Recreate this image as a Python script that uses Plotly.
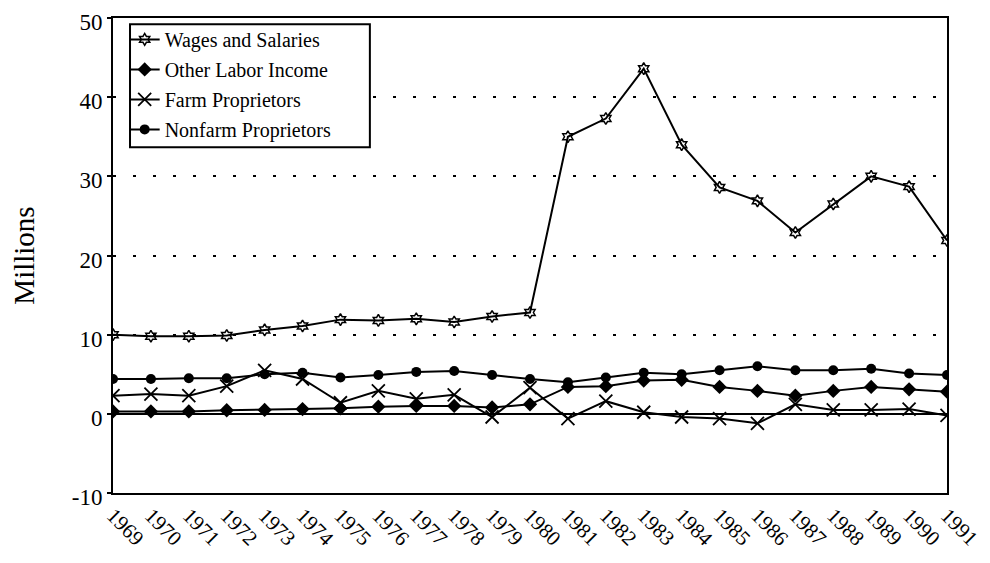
import plotly.graph_objects as go

years = list(range(1969, 1992))
year_labels = [str(y) for y in years]

wages = [10.0, 9.8, 9.8, 9.9, 10.6, 11.1, 11.9, 11.8, 12.0, 11.6, 12.3, 12.8,
         35.0, 37.3, 43.6, 34.0, 28.6, 26.9, 22.9, 26.5, 30.0, 28.7, 21.9]
other_labor = [0.3, 0.3, 0.3, 0.45, 0.5, 0.6, 0.7, 0.9, 1.0, 1.0, 0.8, 1.2,
               3.4, 3.5, 4.2, 4.3, 3.4, 2.9, 2.3, 2.9, 3.4, 3.1, 2.8]
farm = [2.3, 2.5, 2.3, 3.5, 5.5, 4.4, 1.4, 2.9, 1.9, 2.4, -0.4, 3.3,
        -0.6, 1.6, 0.2, -0.4, -0.6, -1.2, 1.2, 0.5, 0.5, 0.6, -0.2]
nonfarm = [4.4, 4.4, 4.5, 4.5, 5.0, 5.2, 4.6, 4.9, 5.3, 5.4, 4.9, 4.4,
           4.0, 4.6, 5.2, 5.0, 5.5, 6.0, 5.5, 5.5, 5.7, 5.1, 4.9]

y_ticks = [-10, 0, 10, 20, 30, 40, 50]
y_tick_labels = ["-10", "0", "10", "20", "30", "40", "50"]

series = [
    ("Wages and Salaries", wages, dict(symbol="hexagram-open", size=9, color="black", line=dict(width=1.5, color="black"))),
    ("Other Labor Income", other_labor, dict(symbol="diamond", size=11, color="black")),
    ("Farm Proprietors", farm, dict(symbol="x-thin-open", size=13, color="black", line=dict(width=1.8, color="black"))),
    ("Nonfarm Proprietors", nonfarm, dict(symbol="circle", size=10, color="black")),
]

fig = go.Figure()
for i, (name, vals, mk) in enumerate(series):
    fig.add_trace(go.Scatter(
        x=years, y=vals, name=name, mode="lines+markers",
        line=dict(color="black", width=2),
        marker=mk, legendgroup=f"g{i}",
    ))

font_family = "Liberation Serif"

# legend frame drawn as a shape so its width matches the original box
fig.add_shape(
    type="rect", xref="paper", yref="paper",
    x0=0.0204, x1=0.308, y0=0.728, y1=0.987,
    line=dict(color="black", width=2), fillcolor="white", layer="above",
)

# page body has an 8px margin, so the figure is sized to fit inside the window
fig.update_layout(
    width=982, height=555,
    margin=dict(l=105, r=43, t=10, b=70, autoexpand=False),
    paper_bgcolor="white", plot_bgcolor="white",
    font=dict(family=font_family, color="black", size=20),
    showlegend=True,
    legend=dict(
        x=0.014, y=0.996, xanchor="left", yanchor="top",
        bgcolor="rgba(0,0,0,0)", borderwidth=0,
        font=dict(size=20, family=font_family, color="black"),
        traceorder="grouped", tracegroupgap=1,
        itemwidth=30,
    ),
    xaxis=dict(
        range=[1969, 1991],
        tickmode="array", tickvals=years, ticktext=year_labels,
        tickangle=45, tickfont=dict(size=21, family=font_family),
        showgrid=False, zeroline=False,
        showline=True, linecolor="black", linewidth=2, mirror=True,
        ticks="", automargin=False, ticklabeloverflow="allow",
    ),
    yaxis=dict(
        range=[-10, 50],
        tickmode="array", tickvals=y_ticks, ticktext=y_tick_labels,
        tickfont=dict(size=23, family=font_family),
        ticklabelshift=4,
        title=dict(text="Millions", font=dict(size=29, family=font_family), standoff=38),
        showgrid=True, gridcolor="black", gridwidth=2, griddash="3px,17px",
        zeroline=True, zerolinecolor="black", zerolinewidth=2,
        showline=True, linecolor="black", linewidth=2, mirror=True,
        ticks="outside", ticklen=4, tickcolor="black", tickwidth=1.5,
        automargin=False, ticklabeloverflow="allow",
    ),
)

fig.write_html("out.html")
